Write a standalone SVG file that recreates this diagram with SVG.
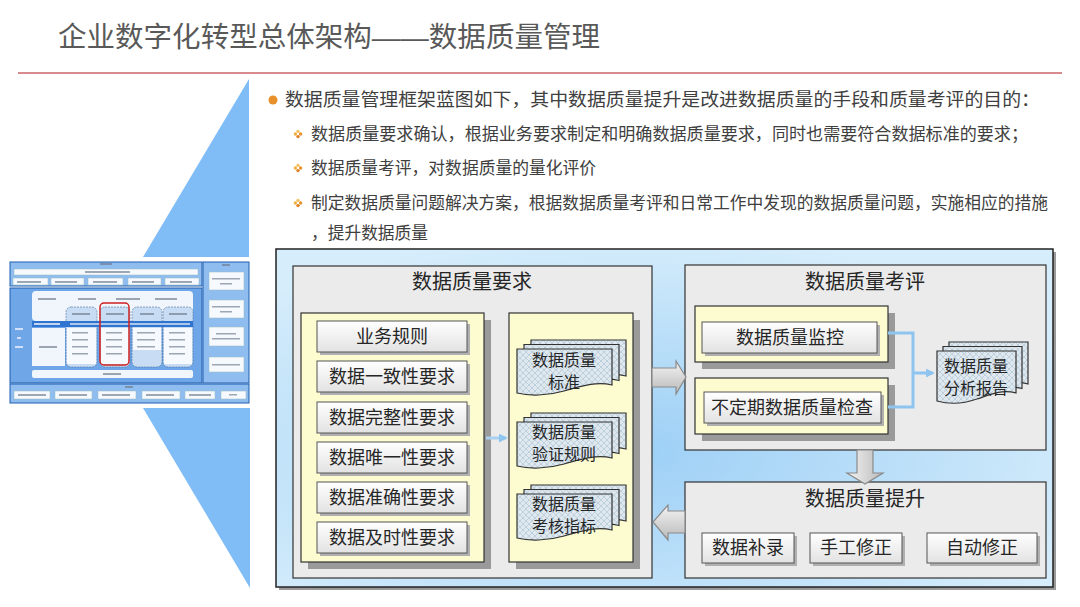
<svg xmlns="http://www.w3.org/2000/svg" width="1080" height="607" viewBox="0 0 1080 607">
<defs>
<style>
.sans{font-family:"Liberation Sans","Noto Sans CJK SC",sans-serif;}
.title{font-size:28px;fill:#595959;}
.b1{font-size:18px;fill:#404040;}
.b2{font-size:17px;fill:#404040;}
.dt{font-family:"Noto Sans CJK SC",sans-serif;font-size:18px;fill:#262626;text-anchor:middle;}
.dd{font-family:"Noto Sans CJK SC",sans-serif;font-size:16px;fill:#262626;text-anchor:middle;}
.ht{font-family:"Noto Sans CJK SC",sans-serif;font-size:20px;fill:#262626;text-anchor:middle;}
.gray{fill:#ebebeb;stroke:#333;stroke-width:1.2;}
.yel{fill:#fcfcd0;stroke:#333;stroke-width:1.2;}
.shd{fill:#9a9a9a;}
.row{fill:url(#rowg);stroke:#555;stroke-width:1;}
.doc{fill:url(#hatch);stroke:#333;stroke-width:1.2;}
.blk{fill:url(#blkg);stroke:#8a8a8a;stroke-width:1.2;}
.blkv{fill:url(#blkh);stroke:#8a8a8a;stroke-width:1.2;}
.con{fill:none;stroke:#8ec5f0;stroke-width:3;}
.tb{fill:#8fbdf0;stroke:#1f5fb0;stroke-width:1;}
.tw{fill:#f6f9fe;stroke:#9bb;stroke-width:0.5;}
.tm{fill:#6d7a8a;opacity:0.65;}
</style>
<radialGradient id="bgg" cx="0.45" cy="0.6" r="0.65">
<stop offset="0" stop-color="#9ccff6"/>
<stop offset="1" stop-color="#d6edfb"/>
</radialGradient>
<linearGradient id="rowg" x1="0" y1="0" x2="0" y2="1">
<stop offset="0" stop-color="#ffffff"/>
<stop offset="1" stop-color="#e2e2e2"/>
</linearGradient>
<linearGradient id="blkg" x1="0" y1="0" x2="0" y2="1">
<stop offset="0" stop-color="#f4f4f4"/>
<stop offset="1" stop-color="#b9b9b9"/>
</linearGradient>
<linearGradient id="blkh" x1="0" y1="0" x2="1" y2="0">
<stop offset="0" stop-color="#f4f4f4"/>
<stop offset="1" stop-color="#b9b9b9"/>
</linearGradient>
<pattern id="hatch" width="6" height="6" patternUnits="userSpaceOnUse">
<rect width="6" height="6" fill="#dfe8ef"/>
<path d="M0,0 L6,6 M6,0 L0,6" stroke="#a9bfd0" stroke-width="0.6"/>
</pattern>
<path id="docA" d="M0,0 H95 V36 C78,32 62,38 47,42 C30,47 12,47 0,44 Z"/>
<path id="docB" d="M0,0 H79 V42 C64,38 52,44 40,48 C26,53 11,53 0,50 Z"/>
<marker id="ah" viewBox="0 0 10 10" refX="8" refY="5" markerWidth="3" markerHeight="3" orient="auto">
<path d="M0,0 L10,5 L0,10 Z" fill="#8ec5f0"/>
</marker>
<g id="dia">
<circle cx="-2.6" cy="0" r="1.7" fill="#f0b040"/>
<circle cx="2.6" cy="0" r="1.7" fill="#e8902a"/>
<circle cx="0" cy="-2.6" r="1.7" fill="#f5c060"/>
<circle cx="0" cy="2.6" r="1.7" fill="#e07e20"/>
</g>
</defs>

<rect width="1080" height="607" fill="#ffffff"/>

<g id="header">
<text class="sans title" x="58" y="47" textLength="542" lengthAdjust="spacingAndGlyphs">企业数字化转型总体架构——数据质量管理</text>
<line x1="18" y1="73" x2="1062" y2="73" stroke="#d98a8c" stroke-width="2"/>
</g>

<g id="zoom-triangles" fill="#80bdf7">
<polygon points="249,79 143,257 249,257"/>
<polygon points="143,408 250,408 250,588"/>
</g>

<g id="bullets">
<circle cx="273" cy="100" r="4.5" fill="#e8902a"/>
<text class="sans b1" x="285" y="106" textLength="755" lengthAdjust="spacingAndGlyphs">数据质量管理框架蓝图如下，其中数据质量提升是改进数据质量的手段和质量考评的目的：</text>
<use href="#dia" x="298" y="134"/>
<text class="sans b2" x="311" y="140" textLength="717" lengthAdjust="spacingAndGlyphs">数据质量要求确认，根据业务要求制定和明确数据质量要求，同时也需要符合数据标准的要求；</text>
<use href="#dia" x="298" y="168"/>
<text class="sans b2" x="311" y="174" textLength="285" lengthAdjust="spacingAndGlyphs">数据质量考评，对数据质量的量化评价</text>
<use href="#dia" x="298" y="203"/>
<text class="sans b2" x="311" y="209" textLength="737" lengthAdjust="spacingAndGlyphs">制定数据质量问题解决方案，根据数据质量考评和日常工作中发现的数据质量问题，实施相应的措施</text>
<text class="sans b2" x="311" y="239" textLength="117" lengthAdjust="spacingAndGlyphs">，提升数据质量</text>
</g>

<g id="thumbnail">
<rect x="8" y="259" width="244" height="147" fill="#ffffff"/>
<rect class="tb" x="10" y="262" width="192" height="24"/>
<rect x="100" y="263" width="12" height="2" class="tm"/>
<rect class="tw" x="14" y="269" width="184" height="6"/>
<rect x="85" y="271" width="45" height="2" class="tm"/>
<rect class="tw" x="13" y="278" width="35" height="7"/>
<rect class="tw" x="51" y="278" width="33" height="7"/>
<rect class="tw" x="88" y="278" width="35" height="7"/>
<rect class="tw" x="128" y="278" width="33" height="7"/>
<rect class="tw" x="165" y="278" width="34" height="7"/>
<rect x="17" y="281" width="24" height="2" class="tm"/>
<rect x="55" y="281" width="22" height="2" class="tm"/>
<rect x="93" y="281" width="24" height="2" class="tm"/>
<rect x="132" y="281" width="22" height="2" class="tm"/>
<rect x="170" y="281" width="22" height="2" class="tm"/>

<rect x="10" y="288" width="192" height="95" fill="#6ea6e8" stroke="#1f5fb0" stroke-width="1"/>
<rect x="32" y="291" width="161" height="30" rx="4" fill="#f1f6fd"/>
<rect x="38" y="298" width="18" height="2" class="tm"/>
<rect x="78" y="298" width="18" height="2" class="tm"/>
<rect x="116" y="298" width="24" height="2" class="tm"/>
<rect x="155" y="298" width="22" height="2" class="tm"/>
<rect x="66" y="307" width="31" height="60" rx="5" fill="#c8dcf3" stroke="#4a6f9a" stroke-width="0.6" stroke-dasharray="2,1"/>
<rect x="100" y="307" width="30" height="60" rx="5" fill="#c8dcf3" stroke="#4a6f9a" stroke-width="0.6" stroke-dasharray="2,1"/>
<rect x="132" y="307" width="30" height="60" rx="5" fill="#c8dcf3" stroke="#4a6f9a" stroke-width="0.6" stroke-dasharray="2,1"/>
<rect x="163" y="307" width="30" height="60" rx="5" fill="#c8dcf3" stroke="#4a6f9a" stroke-width="0.6" stroke-dasharray="2,1"/>
<rect x="72" y="313" width="18" height="2" class="tm"/>
<rect x="106" y="313" width="18" height="2" class="tm"/>
<rect x="140" y="313" width="14" height="2" class="tm"/>
<rect x="169" y="313" width="18" height="2" class="tm"/>
<rect x="32" y="321" width="161" height="6" fill="#2f74d0"/>
<rect x="34" y="323" width="26" height="2" fill="#ffffff" opacity="0.7"/>
<rect x="70" y="323" width="120" height="2" fill="#ffffff" opacity="0.6"/>
<rect x="32" y="328" width="33" height="38" fill="#f1f6fd"/>
<rect x="39" y="346" width="18" height="2" class="tm"/>
<rect x="67" y="328" width="29" height="36" fill="#f6f9fe"/>
<rect x="101" y="328" width="28" height="36" fill="#f6f9fe"/>
<rect x="133" y="328" width="28" height="22" fill="#f6f9fe"/>
<rect x="164" y="328" width="28" height="36" fill="#f6f9fe"/>
<rect x="72" y="332" width="16" height="1.5" class="tm"/>
<rect x="72" y="339" width="16" height="1.5" class="tm"/>
<rect x="72" y="346" width="16" height="1.5" class="tm"/>
<rect x="72" y="353" width="16" height="1.5" class="tm"/>
<rect x="106" y="332" width="16" height="1.5" class="tm"/>
<rect x="106" y="339" width="16" height="1.5" class="tm"/>
<rect x="106" y="346" width="16" height="1.5" class="tm"/>
<rect x="106" y="353" width="16" height="1.5" class="tm"/>
<rect x="137" y="332" width="18" height="1.5" class="tm"/>
<rect x="137" y="339" width="18" height="1.5" class="tm"/>
<rect x="137" y="346" width="18" height="1.5" class="tm"/>
<rect x="169" y="332" width="16" height="1.5" class="tm"/>
<rect x="169" y="339" width="16" height="1.5" class="tm"/>
<rect x="169" y="346" width="16" height="1.5" class="tm"/>
<rect x="169" y="353" width="16" height="1.5" class="tm"/>
<rect x="100" y="303" width="29" height="62" rx="4" fill="none" stroke="#d02020" stroke-width="1.5"/>
<rect x="15" y="328" width="8" height="2" fill="#eef" opacity="0.8"/>
<rect x="17" y="337" width="4" height="2" fill="#eef" opacity="0.8"/>
<rect x="15" y="346" width="8" height="2" fill="#eef" opacity="0.8"/>
<rect x="32" y="370" width="161" height="8" rx="2" fill="#f1f6fd"/>
<rect x="103" y="373" width="18" height="2" class="tm"/>

<rect class="tb" x="203" y="262" width="46" height="121"/>
<rect x="222" y="264" width="8" height="2" class="tm"/>
<rect class="tw" x="209" y="272" width="35" height="18"/>
<rect class="tw" x="209" y="300" width="35" height="18"/>
<rect class="tw" x="209" y="327" width="35" height="19"/>
<rect class="tw" x="209" y="357" width="35" height="15"/>
<rect x="212" y="278" width="28" height="1.5" class="tm"/>
<rect x="220" y="283" width="12" height="1.5" class="tm"/>
<rect x="212" y="306" width="28" height="1.5" class="tm"/>
<rect x="220" y="311" width="12" height="1.5" class="tm"/>
<rect x="216" y="333" width="20" height="1.5" class="tm"/>
<rect x="212" y="338" width="28" height="1.5" class="tm"/>
<rect x="212" y="364" width="28" height="1.5" class="tm"/>

<rect class="tb" x="10" y="384" width="239" height="19"/>
<rect x="125" y="386" width="8" height="2" class="tm"/>
<rect class="tw" x="14" y="391" width="36" height="8"/>
<rect class="tw" x="55" y="391" width="37" height="8"/>
<rect class="tw" x="98" y="391" width="38" height="8"/>
<rect class="tw" x="142" y="391" width="38" height="8"/>
<rect class="tw" x="185" y="391" width="30" height="8"/>
<rect class="tw" x="221" y="391" width="25" height="8"/>
<rect x="18" y="394" width="28" height="2" class="tm"/>
<rect x="59" y="394" width="28" height="2" class="tm"/>
<rect x="102" y="394" width="28" height="2" class="tm"/>
<rect x="146" y="394" width="28" height="2" class="tm"/>
<rect x="189" y="394" width="22" height="2" class="tm"/>
<rect x="229" y="394" width="8" height="1.5" class="tm"/>
</g>

<g id="container">
<rect x="279" y="252" width="777" height="338" fill="#9a9a9a"/>
<rect x="276" y="249" width="777" height="338" fill="url(#bgg)" stroke="#222" stroke-width="1.5"/>
</g>

<g id="req">
<rect class="gray" x="293" y="266" width="359" height="312"/>
<text class="ht" x="472" y="289">数据质量要求</text>
<rect class="shd" x="308" y="320" width="183" height="249"/>
<rect class="yel" x="301" y="313" width="183" height="249"/>
<rect class="shd" x="516" y="320" width="124" height="249"/>
<rect class="yel" x="509" y="313" width="124" height="249"/>
</g>

<g id="req-rows">
<rect x="320" y="324" width="150" height="31" fill="#b0b0b0"/>
<rect class="row" x="317" y="321" width="150" height="31"/>
<text class="dt" x="392" y="343">业务规则</text>
<rect x="320" y="364" width="150" height="31" fill="#b0b0b0"/>
<rect class="row" x="317" y="361" width="150" height="31"/>
<text class="dt" x="392" y="383">数据一致性要求</text>
<rect x="320" y="405" width="150" height="31" fill="#b0b0b0"/>
<rect class="row" x="317" y="402" width="150" height="31"/>
<text class="dt" x="392" y="424">数据完整性要求</text>
<rect x="320" y="445" width="150" height="31" fill="#b0b0b0"/>
<rect class="row" x="317" y="442" width="150" height="31"/>
<text class="dt" x="392" y="464">数据唯一性要求</text>
<rect x="320" y="485" width="150" height="31" fill="#b0b0b0"/>
<rect class="row" x="317" y="482" width="150" height="31"/>
<text class="dt" x="392" y="504">数据准确性要求</text>
<rect x="320" y="525" width="150" height="31" fill="#b0b0b0"/>
<rect class="row" x="317" y="522" width="150" height="31"/>
<text class="dt" x="392" y="544">数据及时性要求</text>
</g>

<g id="req-docs">
<use href="#docA" class="doc" x="531" y="340"/>
<use href="#docA" class="doc" x="524" y="344.5"/>
<use href="#docA" class="doc" x="517" y="349"/>
<text class="dd"><tspan x="564" y="366">数据质量</tspan><tspan x="564" y="388">标准</tspan></text>
<use href="#docA" class="doc" x="531" y="413"/>
<use href="#docA" class="doc" x="524" y="417.5"/>
<use href="#docA" class="doc" x="517" y="422"/>
<text class="dd"><tspan x="564" y="438">数据质量</tspan><tspan x="564" y="460">验证规则</tspan></text>
<use href="#docA" class="doc" x="531" y="485"/>
<use href="#docA" class="doc" x="524" y="489.5"/>
<use href="#docA" class="doc" x="517" y="494"/>
<text class="dd"><tspan x="564" y="510">数据质量</tspan><tspan x="564" y="532">考核指标</tspan></text>
</g>

<g id="eval">
<rect class="gray" x="685" y="265" width="361" height="185"/>
<text class="ht" x="865" y="289">数据质量考评</text>
<rect class="shd" x="702" y="313" width="193" height="56"/>
<rect class="yel" x="695" y="306" width="193" height="56"/>
<rect x="705" y="325" width="175" height="31" fill="#b0b0b0"/>
<rect class="row" x="702" y="322" width="175" height="31"/>
<text class="dt" x="790" y="344">数据质量监控</text>
<rect class="shd" x="702" y="385" width="193" height="56"/>
<rect class="yel" x="695" y="378" width="193" height="56"/>
<rect x="707" y="395" width="177" height="31" fill="#b0b0b0"/>
<rect class="row" x="704" y="392" width="177" height="31"/>
<text class="dt" x="792" y="414">不定期数据质量检查</text>
<use href="#docB" class="doc" x="949" y="342"/>
<use href="#docB" class="doc" x="943" y="346.5"/>
<use href="#docB" class="doc" x="937" y="351"/>
<text class="dd"><tspan x="976" y="372">数据质量</tspan><tspan x="976" y="394">分析报告</tspan></text>
</g>

<g id="improve">
<rect class="gray" x="685" y="482" width="361" height="96"/>
<text class="ht" x="865" y="506">数据质量提升</text>
<rect x="705" y="536" width="92" height="30" fill="#b0b0b0"/>
<rect class="row" x="702" y="533" width="92" height="30"/>
<text class="dt" x="748" y="554">数据补录</text>
<rect x="813" y="536" width="92" height="30" fill="#b0b0b0"/>
<rect class="row" x="810" y="533" width="92" height="30"/>
<text class="dt" x="856" y="554">手工修正</text>
<rect x="930" y="536" width="110" height="30" fill="#b0b0b0"/>
<rect class="row" x="927" y="533" width="110" height="30"/>
<text class="dt" x="982" y="554">自动修正</text>
</g>

<g id="connectors">
<path class="blk" d="M652,368 H676 V361 L686,377 L676,394 V387 H652 Z"/>
<path class="blkv" d="M857,450 H873 V473 H883 L865,484 L847,473 H857 Z"/>
<path class="blk" d="M685,511 H668 V505 L653,522 L668,540 V533 H685 Z"/>
<line x1="486" y1="438" x2="506" y2="438" stroke="#a9d0f0" stroke-width="3" marker-end="url(#ah)"/>
<path class="con" d="M888,333 H913 V407 H888"/>
<line class="con" x1="913" y1="373" x2="933" y2="373" marker-end="url(#ah)"/>
</g>
</svg>
